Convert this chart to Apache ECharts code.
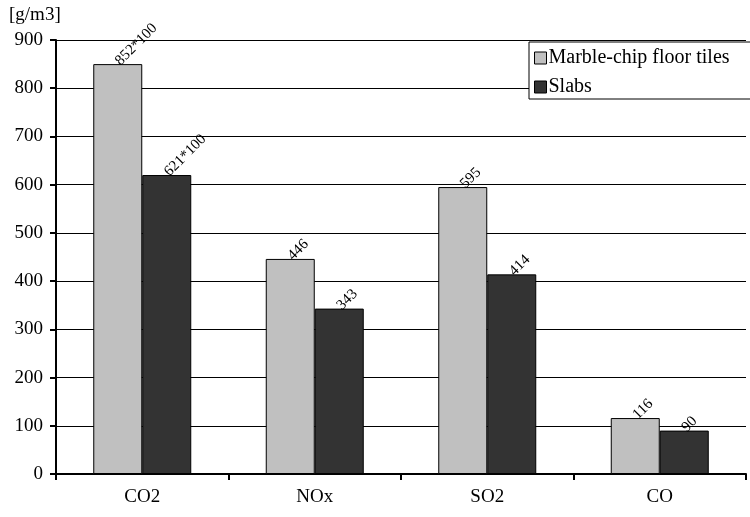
<!DOCTYPE html>
<html>
<head>
<meta charset="utf-8">
<script src="https://cdn.jsdelivr.net/npm/echarts@6/dist/echarts.min.js"></script>
<style>html,body{margin:0;padding:0;background:#fff}#c{width:750px;height:517px}</style>
</head>
<body>
<div id="c"></div>
<script>
const categories = ['CO2', 'NOx', 'SO2', 'CO'];
const seriesNames = ['Marble-chip floor tiles', 'Slabs'];
const tilesValues = [850, 446, 595, 116];
const slabsValues = [620, 343, 414, 90];
const tilesLabels = ['852*100', '446', '595', '116'];
const slabsLabels = ['621*100', '343', '414', '90'];
const yTicks = { min: 0, max: 900, interval: 100 };
const unitLabel = '[g/m3]';

const font = 'Liberation Serif, Times New Roman, serif';
const chart = echarts.init(document.getElementById('c'), null, { renderer: 'canvas' });

function mkLabel(labels) {
  return {
    show: true, position: 'top', rotate: 45, align: 'left', verticalAlign: 'middle',
    distance: 1, fontFamily: font, fontSize: 15, color: '#000',
    formatter: p => labels[p.dataIndex]
  };
}

chart.setOption({
  animation: false,
  title: { text: unitLabel, left: 4, top: 1, textStyle: { fontFamily: font, fontSize: 19, fontWeight: 'normal', color: '#000' } },
  grid: { left: 56, right: 4, top: 40, bottom: 43 },
  legend: {
    orient: 'vertical', left: 529, top: 42, padding: [6, 40, 2, 5],
    backgroundColor: '#fff', borderColor: '#000', borderWidth: 1, borderRadius: 0,
    itemWidth: 12, itemHeight: 12, itemGap: 9, icon: 'rect',
    itemStyle: { borderColor: '#000', borderWidth: 1 },
    textStyle: { fontFamily: font, fontSize: 20, color: '#000', padding: [0, 0, 0, -3] },
    data: seriesNames
  },
  xAxis: {
    type: 'category', data: categories,
    axisLine: { lineStyle: { color: '#000', width: 2 } },
    axisTick: { show: true, length: 6, lineStyle: { color: '#000', width: 2 } },
    axisLabel: { fontFamily: font, fontSize: 19, color: '#000', margin: 14 }
  },
  yAxis: {
    type: 'value', min: yTicks.min, max: yTicks.max, interval: yTicks.interval,
    axisLine: { show: true, lineStyle: { color: '#000', width: 2 } },
    axisTick: { show: true, length: 6, lineStyle: { color: '#000', width: 2 } },
    axisLabel: { fontFamily: font, fontSize: 19, color: '#000', margin: 13 },
    splitLine: { lineStyle: { color: '#000', width: 1 } }
  },
  series: [
    {
      name: seriesNames[0], type: 'bar', data: tilesValues, barWidth: 49, barGap: '0%',
      itemStyle: { color: '#c0c0c0', borderColor: '#000', borderWidth: 1 },
      label: mkLabel(tilesLabels)
    },
    {
      name: seriesNames[1], type: 'bar', data: slabsValues, barWidth: 49, barGap: '0%',
      itemStyle: { color: '#333333', borderColor: '#000', borderWidth: 1 },
      label: mkLabel(slabsLabels)
    }
  ]
});
</script>
</body>
</html>
